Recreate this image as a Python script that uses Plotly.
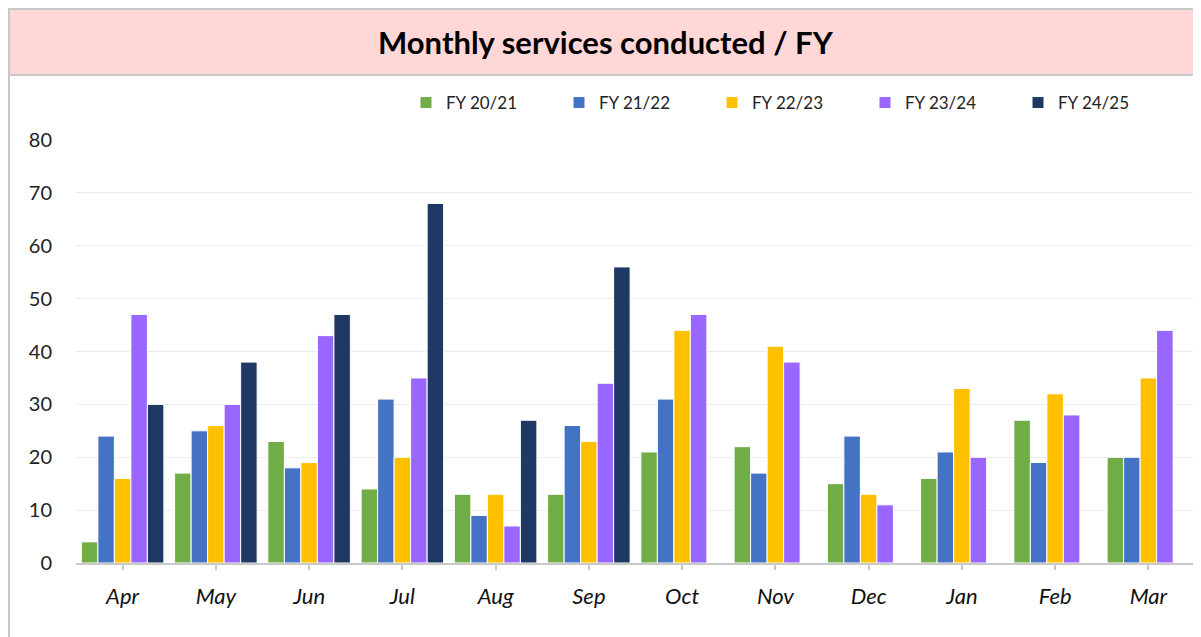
import plotly.graph_objects as go

months = ["Apr", "May", "Jun", "Jul", "Aug", "Sep", "Oct", "Nov", "Dec", "Jan", "Feb", "Mar"]
series_names = ["FY 20/21", "FY 21/22", "FY 22/23", "FY 23/24", "FY 24/25"]
fy2021 = [4, 17, 23, 14, 13, 13, 21, 22, 15, 16, 27, 20]
fy2122 = [24, 25, 18, 31, 9, 26, 31, 17, 24, 21, 19, 20]
fy2223 = [16, 26, 19, 20, 13, 23, 44, 41, 13, 33, 32, 35]
fy2324 = [47, 30, 43, 35, 7, 34, 47, 38, 11, 20, 28, 44]
fy2425 = [30, 38, 47, 68, 27, 56, None, None, None, None, None, None]
y_ticks = [0, 10, 20, 30, 40, 50, 60, 70, 80]
title_text = "Monthly services conducted / FY"

colors = ["#70AD47", "#4472C4", "#FFC000", "#9966FF", "#203864"]
all_series = [fy2021, fy2122, fy2223, fy2324, fy2425]

FONT = "Lato"

fig = go.Figure()
for name, vals, col in zip(series_names, all_series, colors):
    fig.add_trace(go.Bar(
        x=months, y=vals, name=name,
        marker=dict(color=col, line=dict(color="white", width=1)),
    ))

# page offset of the plot div (body margin)
O = 8
W, H = 1201 - O, 637 - O
# plot area in page pixels
L, R, B, T = 76, 1195, 563, 140
def px(x):
    return (x - L) / (R - L)
def py(y):
    return (B - y) / (B - T)

shapes = [
    dict(type="rect", xref="paper", yref="paper",
         x0=px(9), x1=px(1215), y0=py(75), y1=py(9),
         fillcolor="#FFD7D7", line=dict(color="#C8C8C8", width=2), layer="below"),
    dict(type="line", xref="paper", yref="paper",
         x0=px(9), x1=px(9), y0=py(9), y1=py(650),
         line=dict(color="#C8C8C8", width=2)),
]

fig.update_layout(
    width=W, height=H,
    margin=dict(l=L - O, r=W - (R - O), t=T - O, b=H - (B - O), autoexpand=False),
    paper_bgcolor="white", plot_bgcolor="white",
    barmode="group", bargap=0.115, bargroupgap=0,
    font=dict(family=FONT, color="#222222"),
    showlegend=True,
    legend=dict(orientation="h", x=px(406), xanchor="left", y=py(103), yanchor="middle",
                font=dict(size=17, family=FONT, color="#222222"),
                entrywidth=108, entrywidthmode="pixels", itemwidth=30,
                bgcolor="rgba(0,0,0,0)", traceorder="normal"),
    shapes=shapes,
    annotations=[dict(text="<b>" + title_text + "</b>", xref="paper", yref="paper",
                      x=px(606), y=py(42), xanchor="center", yanchor="middle",
                      showarrow=False, font=dict(size=31, family=FONT, color="#000000"))],
    xaxis=dict(type="category", categoryorder="array", categoryarray=months,
               showline=True, linecolor="#C8C8C8", linewidth=2,
               ticks="outside", ticklen=5, tickcolor="#C8C8C8", tickwidth=2,
               tickfont=dict(size=22, family=FONT, color="#111111", style="italic"),
               ticklabelstandoff=8, showgrid=False),
    yaxis=dict(range=[0, 80], tickvals=y_ticks, showgrid=True, gridcolor="#EDEDED", gridwidth=1,
               zeroline=False, showline=False, ticks="",
               tickfont=dict(size=20, family=FONT, color="#222222"),
               ticklabelstandoff=23),
)

fig.write_html("out.html")
